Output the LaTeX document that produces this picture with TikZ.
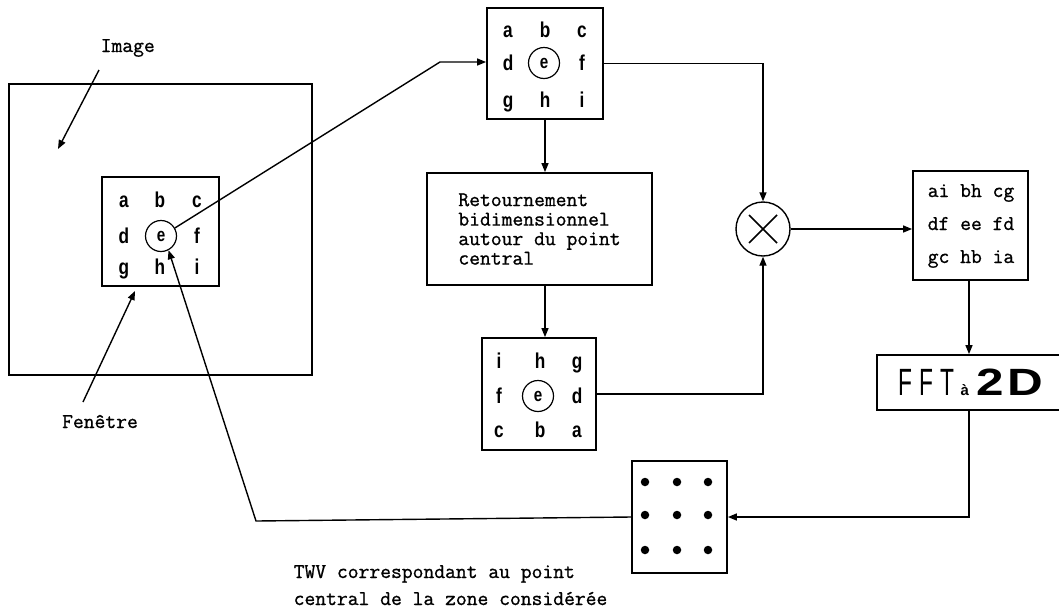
\documentclass[tikz,border=0pt]{standalone}
\usepackage{fontspec}
\newfontfamily\lettfont[FakeStretch=0.8]{Liberation Sans}
\newfontfamily\fftfont[FakeStretch=0.6]{Liberation Sans}
\newfontfamily\fftbold{Liberation Sans}
\newfontfamily\fftwide[FakeStretch=1.3]{Liberation Sans}
\newfontfamily\twfont[FakeBold=1]{Latin Modern Mono}
\usetikzlibrary{arrows.meta,calc}
\begin{document}
\begin{tikzpicture}[x=1pt,y=-1pt,
  line width=1.4pt,
  arr/.style={-{Triangle[length=9pt,width=7pt]}},
  box/.style={draw,line width=1.8pt,inner sep=0pt},
  lt/.style={font=\lettfont\bfseries\fontsize{21.5}{21.5}\selectfont,inner sep=0pt,anchor=base},
  ecirc/.style={draw,circle,line width=1.2pt,minimum size=31pt,inner sep=0pt,font=\lettfont\bfseries\fontsize{19}{19}\selectfont},
  tw/.style={font=\twfont\fontsize{21}{19.5}\selectfont,inner sep=0pt},
  dot/.style={circle,fill,minimum size=8.5pt,inner sep=0pt},
]
\useasboundingbox (0,0) rectangle (1059,611);

% Image and window
\node[box,minimum width=303pt,minimum height=291pt] (img) at (160.5,229.5) {};
\node[box,minimum width=117pt,minimum height=109pt] (win) at (160.5,231.5) {};
\foreach \t/\x/\y in {a/124/207,b/160/207,c/197/207,d/124/243,f/197/243,g/124/274,h/160/274,i/197/274}
  \node[lt] (w\t) at (\x,\y) {\t};
\node[ecirc] (we) at (161,236) {e};

\node[tw,anchor=base west] (imglbl) at (100,52) {Image};
\coordinate (imgfrom) at (99,70);
\coordinate (imgpt) at (58,149);
\draw[arr] (imgfrom) -- (imgpt);

\node[tw,anchor=base] (fenlbl) at (100,428) {Fenêtre};
\coordinate (fenfrom) at (83,402);
\coordinate (fenpt) at (135,291);
\draw[arr] (fenfrom) -- (fenpt);

% top box
\node[box,minimum width=116pt,minimum height=111pt] (top) at (545,63.5) {};
\foreach \t/\x/\y in {a/508/37,b/545/37,c/582/37,d/508/70,f/582/70,g/508/107,h/545/107,i/582/107}
  \node[lt] (t\t) at (\x,\y) {\t};
\node[ecirc] (te) at (544,63) {e};

% Retournement box
\node[box,minimum width=225pt,minimum height=112pt,tw,align=left] (ret) at (539.5,229)
  {Retournement\\bidimensionnel\\autour du point\\central};

% bottom box
\node[box,minimum width=114pt,minimum height=112pt] (bot) at (539,394) {};
\foreach \t/\x/\y in {i/499/368,h/540/368,g/577/368,f/499/403,d/577/403,c/499/437,b/540/437,a/577/437}
  \node[lt] (b\t) at (\x,\y) {\t};
\node[ecirc] (be) at (538,396) {e};

% multiplier
\node[draw,circle,line width=1.4pt,minimum size=54pt,inner sep=0pt] (mult) at (763,229) {};
\draw[line width=1.6pt] ($(mult.center)+(-14,-14)$) -- ($(mult.center)+(14,14)$)
  ($(mult.center)+(-14,14)$) -- ($(mult.center)+(14,-14)$);

% product box
\node[box,minimum width=115pt,minimum height=109pt] (prod) at (970.5,225.5) {};
\node[tw,anchor=base] (p1) at (971,197) {ai bh cg};
\node[tw,anchor=base] (p2) at (971,230) {df ee fd};
\node[tw,anchor=base] (p3) at (971,263) {gc hb ia};

% FFT box
\node[box,minimum width=188pt,minimum height=55pt] (fft) at (971,382.5)
  {\fftfont\fontsize{38}{38}\selectfont F\kern7pt F\kern7pt T\kern6pt{\fftbold\fontsize{15}{15}\selectfont\bfseries à}\kern7pt{\fftwide\bfseries 2\kern4pt D}};

% dots box
\node[box,minimum width=95pt,minimum height=112pt] (dots) at (679.5,517) {};
\foreach \x [count=\i] in {645,677,708}
  \foreach \y [count=\j] in {482,515,550}
    \node[dot] (dot\i\j) at (\x,\y) {};

\node[tw,anchor=base west] (twv1) at (293,578) {TWV correspondant au point};
\node[tw,anchor=base west] (twv2) at (293,605) {central de la zone considérée};

% connectors
\coordinate (k1) at (440,62);
\draw[arr] (we.30) -- (k1) -- (k1 -| top.west);
\draw[arr] (top.south) -- (ret.north -| top.south);
\draw[arr] (ret.south -| top.south) -- (bot.north -| top.south);
\draw[arr] (top.east) -| (mult.north);
\draw[arr] (bot.east) -| (mult.south);
\draw[arr] (mult.east) -- (mult.east -| prod.west);
\coordinate (k2) at (969,0);
\draw[arr] (k2 |- prod.south) -- (k2 |- fft.north);
\draw[arr] (k2 |- fft.south) |- (dots.east);
\coordinate (k3) at (256,521);
\draw[arr] (dots.west) -- (k3) -- (we.-62);
\end{tikzpicture}
\end{document}
